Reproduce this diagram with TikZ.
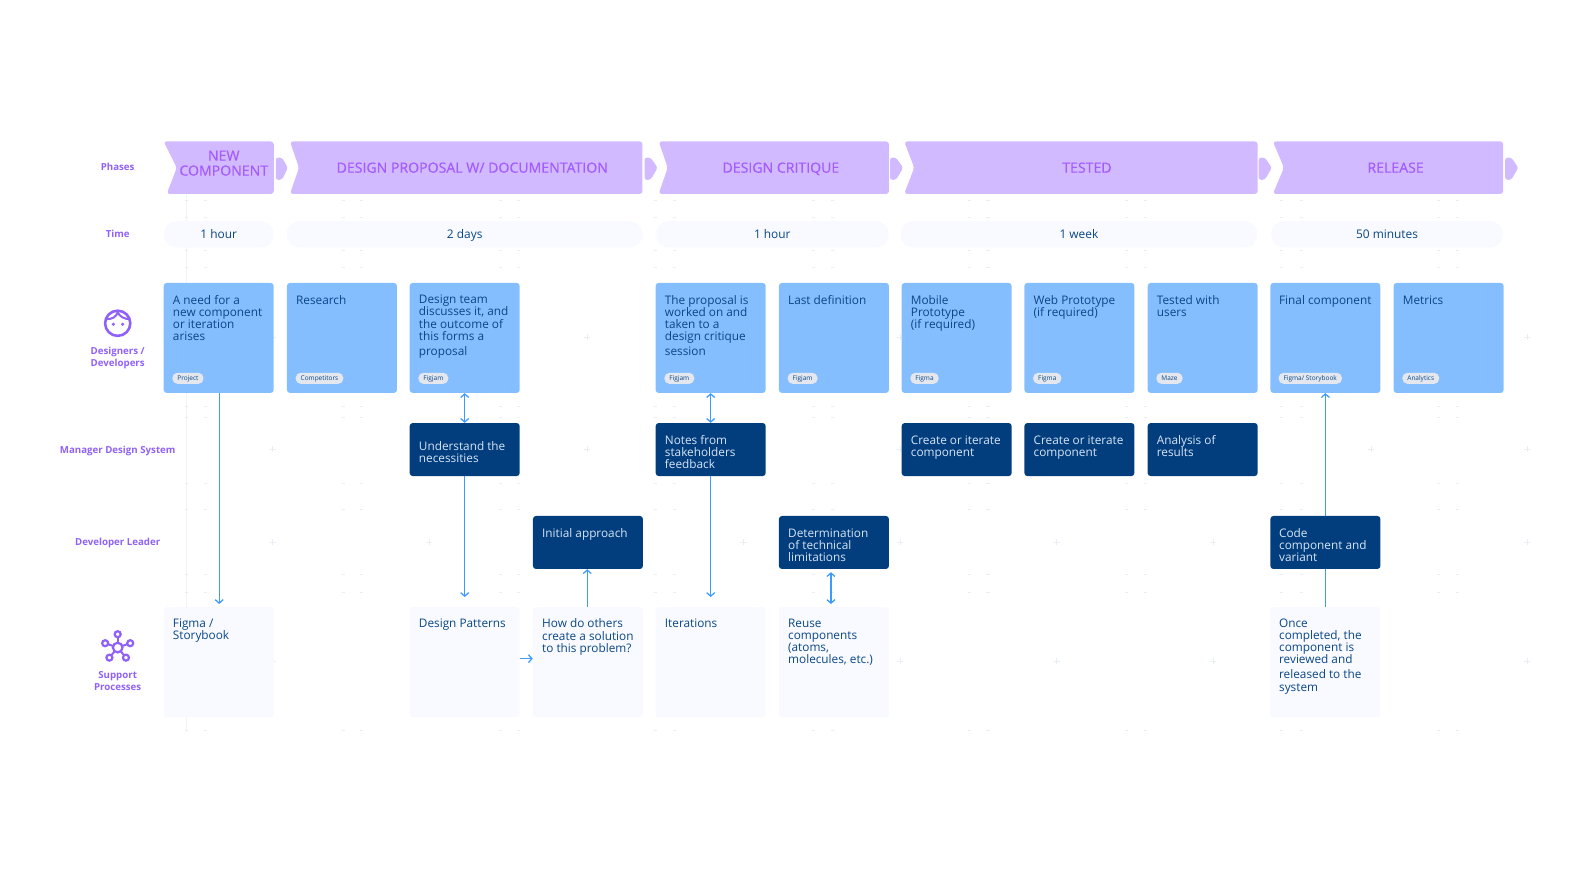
\documentclass[tikz,border=0pt]{standalone}
\usepackage{fontspec}
\setmainfont{Open Sans}
\newfontfamily\phasefont{Open Sans}[FakeBold=0.5]
\usepackage{xcolor}
\usetikzlibrary{arrows.meta}
\definecolor{phasefill}{RGB}{209, 186, 255}
\definecolor{phasetext}{RGB}{165, 92, 255}
\definecolor{rowpurple}{RGB}{144, 97, 249}
\definecolor{cardblue}{RGB}{133, 190, 255}
\definecolor{navybox}{RGB}{2, 62, 126}
\definecolor{supportbg}{RGB}{248, 250, 255}
\definecolor{tagbg}{RGB}{228, 232, 238}
\definecolor{cardtext}{RGB}{10, 70, 135}
\definecolor{navytext}{RGB}{214, 228, 245}
\definecolor{linkblue}{RGB}{59, 154, 255}
\definecolor{faintmark}{RGB}{233, 238, 245}
\definecolor{faintline}{RGB}{243, 244, 247}

\tikzset{
    >={Straight Barb[length=3.5pt,width=8pt]},
    rowlabel/.style={rowpurple, font=\fontsize{9.7}{11.6}\selectfont\bfseries, align=center, inner sep=0pt},
    phasebox/.style={fill=phasefill, rounded corners=3pt},
    phaselabel/.style={phasetext, font=\fontsize{14.1}{15}\selectfont\phasefont, align=center, inner sep=0pt},
    phaseline/.style={phaselabel, text height=10pt, text depth=3pt},
    timepill/.style={fill=supportbg, rounded corners=13pt, minimum height=26.5pt, inner sep=0pt},
    timelabel/.style={cardtext, font=\fontsize{11.9}{12}\selectfont, text height=9pt, text depth=3pt, inner sep=0pt},
    card/.style={fill=cardblue, rounded corners=3pt, minimum width=110pt, minimum height=110pt, inner sep=0pt},
    navy/.style={fill=navybox, rounded corners=3pt, minimum width=110pt, minimum height=53pt, inner sep=0pt},
    support/.style={fill=supportbg, rounded corners=3pt, minimum width=110pt, minimum height=110pt, inner sep=0pt},
    cardlabel/.style={cardtext, font=\fontsize{11.8}{12.1}\selectfont, align=left, anchor=north west, inner sep=0pt, execute at begin node={\rule{0pt}{9pt}}},
    navylabel/.style={navytext, font=\fontsize{11.8}{12.1}\selectfont, align=left, anchor=north west, inner sep=0pt, execute at begin node={\rule{0pt}{9pt}}},
    tag/.style={fill=tagbg, text=cardtext, rounded corners=5pt, font=\fontsize{6.5}{8}\selectfont, anchor=west, text height=5pt, text depth=1.5pt, minimum height=11pt, inner xsep=5pt, inner ysep=0pt},
    link/.style={linkblue, line width=1.25pt},
    faintcross/.style={faintmark, line width=0.7pt}
}

\begin{document}
\begin{tikzpicture}[x=1.0102pt, y=-1.0102pt]
    \useasboundingbox (0,0) rectangle (1568,883);

    % Faint marks behind
    \draw[faintline, line width=0.8pt] (185,192) -- (185,725);
    \foreach \yy in {333.6,444.5,536.5,654.3} {
        \foreach \xx in {270,425,581,736,891,1046,1201,1357,1512} {
            \draw[faintcross] (\xx-3,\yy) -- (\xx+3,\yy) (\xx,\yy-3) -- (\xx,\yy+3);
        }
    }
    \foreach \yy in {198,215,247.5,265,402,413,478,504,569,586,723} {
        \foreach \xx in {185,203,340,358,495,513,649,668,805,824,960,978,1115,1134,1269,1288,1424,1443} {
            \draw[faintcross] (\xx-1.5,\yy) -- (\xx+1.5,\yy);
        }
    }

    % Row labels
    \node[rowlabel] (lphases) at (116.5,165) {Phases};
    \node[rowlabel] (ltime) at (116.5,231.5) {Time};
    \node[rowlabel] (ldesign) at (116.5,354.5) {Designers /\\Developers};
    \node[rowlabel] (lmanager) at (116.5,446) {Manager Design System};
    \node[rowlabel] (lleader) at (116.5,537.5) {Developer Leader};
    \node[rowlabel] (lsupport) at (116.5,674) {Support\\Processes};

    % Face icon
    \draw[rowpurple, line width=2.6pt] (116.5,320) circle (12.6pt);
    \draw[rowpurple, line width=2pt] (105,316) .. controls (111,316) and (115,314) .. (116.5,309);
    \draw[rowpurple, line width=2pt] (116.5,309) .. controls (118,313) and (123,316) .. (128.5,316);
    \fill[rowpurple] (112.2,321) circle (1.7pt) (121.4,321) circle (1.7pt);

    % Network icon
    \draw[rowpurple, line width=2.2pt] (116.5,641) circle (4.8pt);
    \foreach \dx/\dy in {0/-13.2, 12.4/-4.3, -12.4/-4.3, 8.2/10, -8.2/10} {
        \draw[rowpurple, line width=2pt, shorten <=4.8pt, shorten >=3pt] (116.5,641) -- ++(\dx,\dy);
        \draw[rowpurple, line width=2.2pt] (116.5,641) ++(\dx,\dy) circle (3pt);
    }

    % Phase boxes
    \fill[phasebox] (162,140) -- (271,140) -- (271,192) -- (165,192) -- (175,166) -- cycle;
    \node[phaselabel] (pnew) at (221.5,161.5) {NEW\\COMPONENT};
    \fill[phasefill, rounded corners=2.5pt] (273,156) -- (279,156) -- (285,166) -- (279,178) -- (273,178) -- cycle;

    \fill[phasebox] (287,140) -- (636,140) -- (636,192) -- (287,192) -- (296,166) -- cycle;
    \node[phaseline] (pproposal) at (467.5,167.5) {DESIGN PROPOSAL W/ DOCUMENTATION};
    \fill[phasefill, rounded corners=2.5pt] (638,156) -- (644,156) -- (651,166) -- (644,178) -- (638,178) -- cycle;

    \fill[phasebox] (652,140) -- (880,140) -- (880,192) -- (652,192) -- (661,166) -- cycle;
    \node[phaseline] (pcritique) at (773,167.5) {DESIGN CRITIQUE};
    \fill[phasefill, rounded corners=2.5pt] (881,156) -- (887,156) -- (894,166) -- (887,178) -- (881,178) -- cycle;

    \fill[phasebox] (895,140) -- (1245,140) -- (1245,192) -- (895,192) -- (905,166) -- cycle;
    \node[phaseline] (ptested) at (1076,167.5) {TESTED};
    \fill[phasefill, rounded corners=2.5pt] (1246,156) -- (1252,156) -- (1259,166) -- (1252,178) -- (1246,178) -- cycle;

    \fill[phasebox] (1260,140) -- (1488,140) -- (1488,192) -- (1260,192) -- (1271,166) -- cycle;
    \node[phaseline] (prelease) at (1381.5,167.5) {RELEASE};
    \fill[phasefill, rounded corners=2.5pt] (1490,156) -- (1496,156) -- (1503,166) -- (1496,178) -- (1490,178) -- cycle;

    % Time pills
    \node[timepill, minimum width=110pt] (t1) at (216.5,232) {};
    \node[timelabel] (t1l) at (216.5,233.5) {1 hour};
    \node[timepill, minimum width=356pt] (t2) at (460,232) {};
    \node[timelabel] (t2l) at (460,233.5) {2 days};
    \node[timepill, minimum width=233pt] (t3) at (764.5,232) {};
    \node[timelabel] (t3l) at (764.5,233.5) {1 hour};
    \node[timepill, minimum width=357pt] (t4) at (1068,232) {};
    \node[timelabel] (t4l) at (1068,233.5) {1 week};
    \node[timepill, minimum width=232pt] (t5) at (1373,232) {};
    \node[timelabel] (t5l) at (1373,233.5) {50 minutes};

    % Designers row
    \node[card] (c1) at (216.5,334.5) {};
    \node[cardlabel] (c1l) at (171,292) {A need for a\\new component\\or iteration\\arises};
    \node[tag] (c1t) at (170.5,374.5) {Project};
    \node[card] (c2) at (338.5,334.5) {};
    \node[cardlabel] (c2l) at (293,292) {Research};
    \node[tag] (c2t) at (292.5,374.5) {Competitors};
    \node[card] (c3) at (460,334.5) {};
    \node[cardlabel] (c3l) at (414.5,292) {Design team\\discusses it, and\\the outcome of\\this forms a\\[3pt]proposal};
    \node[tag] (c3t) at (414,374.5) {Figjam};
    \node[card] (c5) at (703.5,334.5) {};
    \node[cardlabel] (c5l) at (658,292) {The proposal is\\worked on and\\taken to a\\design critique\\[3pt]session};
    \node[tag] (c5t) at (657.5,374.5) {Figjam};
    \node[card] (c6) at (825.5,334.5) {};
    \node[cardlabel] (c6l) at (780,292) {Last definition};
    \node[tag] (c6t) at (779.5,374.5) {Figjam};
    \node[card] (c7) at (947,334.5) {};
    \node[cardlabel] (c7l) at (901.5,292) {Mobile\\Prototype\\(if required)};
    \node[tag] (c7t) at (901,374.5) {Figma};
    \node[card] (c8) at (1068.5,334.5) {};
    \node[cardlabel] (c8l) at (1023,292) {Web Prototype\\(if required)};
    \node[tag] (c8t) at (1022.5,374.5) {Figma};
    \node[card] (c9) at (1190.5,334.5) {};
    \node[cardlabel] (c9l) at (1145,292) {Tested with\\users};
    \node[tag] (c9t) at (1144.5,374.5) {Maze};
    \node[card] (c10) at (1312,334.5) {};
    \node[cardlabel] (c10l) at (1266,292) {Final component};
    \node[tag] (c10t) at (1265.5,374.5) {Figma/ Storybook};
    \node[card] (c11) at (1434,334.5) {};
    \node[cardlabel] (c11l) at (1388.5,292) {Metrics};
    \node[tag] (c11t) at (1388,374.5) {Analytics};

    % Manager row
    \node[navy] (m3) at (460,445) {};
    \node[navylabel] (m3l) at (414.5,436.5) {Understand the\\necessities};
    \node[navy] (m5) at (703.5,445) {};
    \node[navylabel] (m5l) at (658,431) {Notes from\\stakeholders\\feedback};
    \node[navy] (m7) at (947,445) {};
    \node[navylabel] (m7l) at (901.5,431) {Create or iterate\\component};
    \node[navy] (m8) at (1068.5,445) {};
    \node[navylabel] (m8l) at (1023,431) {Create or iterate\\component};
    \node[navy] (m9) at (1190.5,445) {};
    \node[navylabel] (m9l) at (1145,431) {Analysis of\\results};

    % Leader row
    \node[navy] (e4) at (582,537) {};
    \node[navylabel] (e4l) at (536.5,523) {Initial approach};
    \node[navy] (e6) at (825.5,537) {};
    \node[navylabel] (e6l) at (780,523) {Determination\\of technical\\limitations};
    \node[navy] (e10) at (1312,537) {};
    \node[navylabel] (e10l) at (1266,523) {Code\\component and\\variant};

    % Support row
    \node[support] (s1) at (216.5,655.5) {};
    \node[cardlabel] (s1l) at (171,612.5) {Figma /\\Storybook};
    \node[support] (s3) at (460,655.5) {};
    \node[cardlabel] (s3l) at (414.5,612.5) {Design Patterns};
    \node[support] (s4) at (582,655.5) {};
    \node[cardlabel] (s4l) at (536.5,612.5) {How do others\\create a solution\\to this problem?};
    \node[support] (s5) at (703.5,655.5) {};
    \node[cardlabel] (s5l) at (658,612.5) {Iterations};
    \node[support] (s6) at (825.5,655.5) {};
    \node[cardlabel] (s6l) at (780,612.5) {Reuse\\components\\(atoms,\\molecules, etc.)};
    \node[support] (s10) at (1312,655.5) {};
    \node[cardlabel] (s10l) at (1266,612.5) {Once\\completed, the\\component is\\reviewed and\\[3pt]released to the\\system};

    % Arrows
    \draw[->, link, shorten >=3pt] ([xshift=0.5pt]c1.south) -- ([xshift=0.5pt]s1.north);
    \draw[<->, link] (c3.south) -- (m3.north);
    \draw[->, link, shorten >=10pt] (m3.south) -- (s3.north);
    \draw[->, link] (s3.east |- 0,652) -- (s4.west |- 0,652);
    \draw[->, link] ([xshift=-0.7pt]s4.north) -- ([xshift=-0.7pt]e4.south);
    \draw[<->, link] (c5.south) -- (m5.north);
    \draw[->, link, shorten >=10pt] (m5.south) -- (s5.north);
    \draw[<->, link, shorten <=3pt, shorten >=3pt] ([xshift=-3pt]e6.south) -- ([xshift=-3pt]s6.north);
    \draw[link] (s10.north) -- (e10.south);
    \draw[->, link] (e10.north) -- (c10.south);
\end{tikzpicture}
\end{document}
